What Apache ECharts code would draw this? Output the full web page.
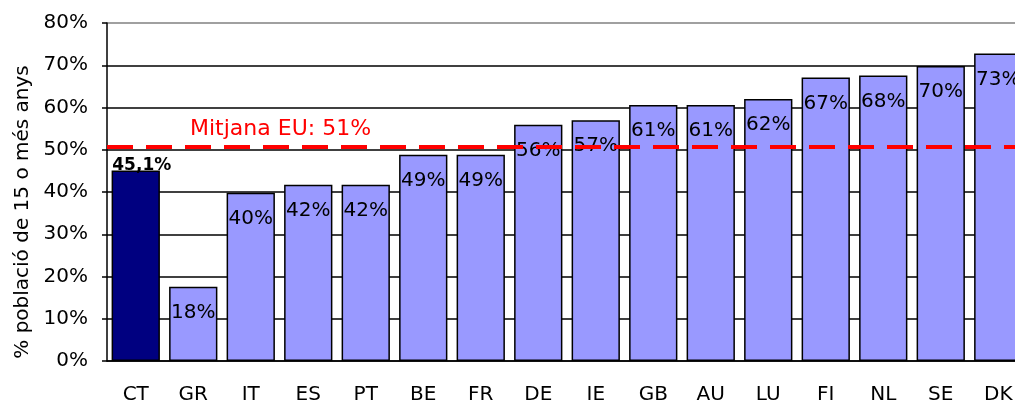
<!DOCTYPE html>
<html>
  <head>
    <meta charset="UTF-8" />
    <title>Població 15 o més anys</title>
    <script src="https://cdn.jsdelivr.net/npm/echarts@6/dist/echarts.min.js"></script>
  </head>
  <body style="margin: 0; overflow: hidden">
    <div id="chart" style="width: 1027px; height: 406px"></div>
    <script>
      var countries = ["CT", "GR", "IT", "ES", "PT", "BE", "FR", "DE", "IE", "GB", "AU", "LU", "FI", "NL", "SE", "DK"];
      var values = [45.1, 17.6, 39.8, 41.7, 41.7, 48.8, 48.8, 55.9, 57.0, 60.6, 60.6, 62.0, 67.1, 67.6, 69.8, 72.8];
      var euAverage = 50.7;
      var euLabel = "Mitjana EU: 51%";
      var yTicks = [0, 10, 20, 30, 40, 50, 60, 70, 80];

      var font = "DejaVu Sans, Verdana, sans-serif";
      var barData = [];
      for (var i = 0; i < values.length; i++) {
        var item = { value: values[i] };
        if (i === 0) {
          // Catalunya destacada
          item.itemStyle = { color: "#000080" };
          item.label = {
            position: "top",
            distance: -6,
            offset: [6, -2],
            fontWeight: "bold",
            fontSize: 17,
            formatter: function (p) {
              return p.value.toFixed(1).replace(".", ",") + "%";
            },
          };
        }
        barData.push(item);
      }

      var chart = echarts.init(document.getElementById("chart"));
      chart.setOption({
        animation: false,
        backgroundColor: "#ffffff",
        grid: { left: 107, top: 23, bottom: 45, right: 0 },
        xAxis: {
          type: "category",
          data: countries,
          axisLine: { lineStyle: { color: "#000", width: 1.5 } },
          axisTick: { length: 7, lineStyle: { color: "#000", width: 1.5 } },
          axisLabel: { color: "#000", fontSize: 20, fontFamily: font, margin: 24 },
        },
        yAxis: {
          type: "value",
          min: yTicks[0],
          max: yTicks[yTicks.length - 1],
          interval: 10,
          name: "% població de 15 o més anys",
          nameLocation: "middle",
          nameGap: 72,
          nameTextStyle: { color: "#000", fontSize: 20, fontFamily: font, padding: [0, 40, 0, 0] },
          axisLine: { show: true, lineStyle: { color: "#000", width: 1.5 } },
          axisTick: { show: true, length: 5, lineStyle: { color: "#000", width: 1.5 } },
          axisLabel: { color: "#000", fontSize: 20, fontFamily: font, margin: 19, formatter: "{value}%" },
          splitLine: {
            lineStyle: {
              color: ["#000", "#000", "#000", "#000", "#000", "#000", "#000", "#000", "#808080"],
              width: 1.5,
            },
          },
        },
        series: [
          {
            type: "bar",
            data: barData,
            barCategoryGap: "16%",
            itemStyle: { color: "#9999ff", borderColor: "#000", borderWidth: 1.5 },
            label: {
              show: true,
              position: "insideTop",
              distance: 16,
              color: "#000",
              fontSize: 20,
              fontFamily: font,
              formatter: function (p) {
                return Math.round(p.value) + "%";
              },
            },
            markLine: {
              silent: true,
              symbol: "none",
              data: [{ yAxis: euAverage }],
              lineStyle: { color: "#ff0000", width: 4, type: [26, 13] },
              label: {
                position: "insideStartTop",
                distance: [83, 7],
                color: "#ff0000",
                fontSize: 22,
                fontFamily: font,
                formatter: euLabel,
              },
            },
          },
        ],
      });
    </script>
  </body>
</html>
